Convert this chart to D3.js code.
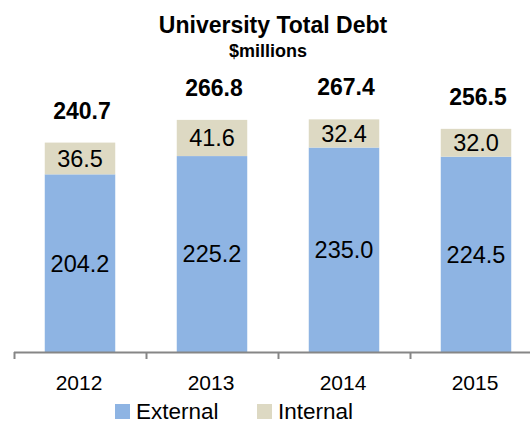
<!DOCTYPE html>
<html lang='en'>
<head>
<meta charset='UTF-8'>
<script src='https://d3js.org/d3.v7.min.js'></script>
<title>University Total Debt</title>
<style>
  body { margin: 0; background: #fff; }
  text { font-family: 'Liberation Sans', Arial, sans-serif; fill: #000; }
</style>
</head>
<body>
<svg id='chart' width='530' height='425'></svg>
<script>
// values, $millions
const years = ['2012', '2013', '2014', '2015']
const external = [204.2, 225.2, 235.0, 224.5]
const internal = [36.5, 41.6, 32.4, 32.0]
const totals = [240.7, 266.8, 267.4, 256.5]
const seriesNames = ['External', 'Internal']
const seriesColors = ['#8EB4E3', '#DDD9C3']

const svg = d3.select('#chart')
const baseY = 352

const x = d3.scaleBand().domain(years).range([14, 542])
  .paddingInner(0.466).paddingOuter(0.233)
const y = d3.scaleLinear().domain([0, 300]).range([baseY, baseY - 300 * 0.87])

const rows = years.map((yr, i) => ({ year: yr, External: external[i], Internal: internal[i], total: totals[i] }))
const stacked = d3.stack().keys(seriesNames)(rows)

// bars
stacked.forEach((layer, li) => {
  const g = svg.append('g')
  g.selectAll('rect').data(layer).enter().append('rect')
    .attr('x', d => x(d.data.year))
    .attr('width', x.bandwidth())
    .attr('y', d => y(d[1]))
    .attr('height', d => y(d[0]) - y(d[1]))
    .style('fill', seriesColors[li])
  g.selectAll('text').data(layer).enter().append('text')
    .attr('x', d => x(d.data.year) + x.bandwidth() / 2)
    .attr('y', d => (y(d[0]) + y(d[1])) / 2)
    .attr('dy', '0.36em')
    .attr('text-anchor', 'middle')
    .style('font-size', '23.5px')
    .text(d => d.data[layer.key].toFixed(1))
})

// totals above
svg.append('g').selectAll('text').data(rows).enter().append('text')
  .attr('x', d => x(d.year) + x.bandwidth() / 2 + 2)
  .attr('y', d => y(d.total) - 24)
  .attr('text-anchor', 'middle')
  .style('font-size', '23px')
  .style('font-weight', 'bold')
  .text(d => d.total.toFixed(1))

// x axis: line with ticks between categories
const axisG = svg.append('g')
axisG.append('line')
  .attr('x1', 14).attr('x2', 542).attr('y1', baseY + 0.5).attr('y2', baseY + 0.5)
  .style('stroke', '#868686').style('stroke-width', 2)
axisG.selectAll('line.tick').data(years).enter().append('line')
  .attr('class', 'tick')
  .attr('x1', d => x(d) - x.step() * 0.233 + 0.5)
  .attr('x2', d => x(d) - x.step() * 0.233 + 0.5)
  .attr('y1', baseY).attr('y2', baseY + 7)
  .style('stroke', '#868686').style('stroke-width', 2)
axisG.selectAll('text').data(years).enter().append('text')
  .attr('x', d => x(d) + x.bandwidth() / 2 - 1)
  .attr('y', 390)
  .attr('text-anchor', 'middle')
  .style('font-size', '21px')
  .text(d => d)

// titles
svg.append('text').attr('x', 273).attr('y', 33)
  .attr('text-anchor', 'middle')
  .style('font-size', '23px').style('font-weight', 'bold')
  .text('University Total Debt')
svg.append('text').attr('x', 268).attr('y', 57)
  .attr('text-anchor', 'middle')
  .style('font-size', '18px').style('font-weight', 'bold')
  .text('$millions')

// legend
const legendX = [115, 257]
const legend = svg.append('g').selectAll('g').data(seriesNames).enter().append('g')
  .attr('transform', (d, i) => `translate(${legendX[i]},404)`)
legend.append('rect').attr('width', 15).attr('height', 15)
  .style('fill', (d, i) => seriesColors[i])
legend.append('text').attr('x', 21).attr('y', 15)
  .style('font-size', '22.5px')
  .text(d => d)
</script>
</body>
</html>
